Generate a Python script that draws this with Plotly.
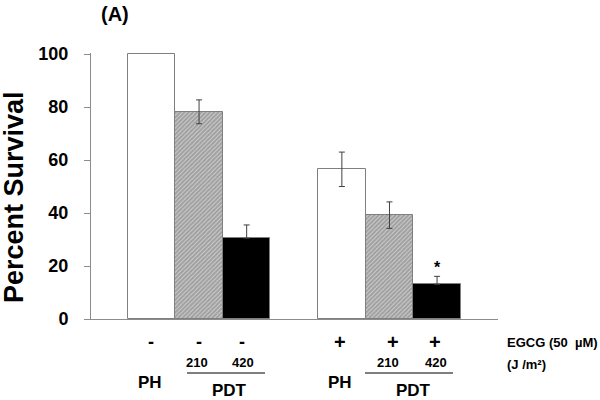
import plotly.graph_objects as go

# ---- data ----
positions = [0, 1, 2, 4, 5, 6]
survival = [100, 78.2, 30.5, 56.5, 39.2, 13.1]
err_positions = [1, 2, 4, 5, 6]
err_values = [78.2, 30.5, 56.5, 39.2, 13.1]
err_plus = [4.5, 5.0, 6.5, 5.0, 3.0]
err_minus = [4.5, 0, 6.5, 5.0, 0]
fill_colors = ["white", "white", "black", "white", "white", "black"]
hatch = ["", "/", "", "", "/", ""]
y_ticks = [0, 20, 40, 60, 80, 100]
egcg_signs = ["-", "-", "-", "+", "+", "+"]
sign_px = [151, 199, 242, 340, 393, 435]
dose_labels = ["210", "420", "210", "420"]
dose_px = [197, 243, 388, 436]
ph_px = [150, 340]
pdt_px = [229, 413]
pdt_line_px = [(187, 265), (365, 453)]

FONT = "Liberation Sans, Arial, sans-serif"
L, R, T, B = 91, 102, 53, 81
PW, PH = 600 - L - R, 400 - T - B

def px2x(px):
    return (px - L) / PW

def py2y(py):
    return (400 - B - py) / PH

fig = go.Figure()
fig.add_trace(go.Bar(
    x=positions, y=survival, width=1.0, cliponaxis=False,
    marker=dict(color=fill_colors,
                line=dict(color="#7f7f7f", width=1),
                pattern=dict(shape=hatch, fgcolor="#111111", bgcolor="white",
                             size=3, solidity=0.85, fillmode="overlay")),
    showlegend=False, hoverinfo="skip",
))
fig.add_trace(go.Scatter(
    x=err_positions, y=err_values, mode="markers",
    marker=dict(size=1, opacity=0),
    error_y=dict(type="data", array=err_plus, arrayminus=err_minus, symmetric=False,
                 color="#404040", thickness=1, width=3, visible=True),
    showlegend=False, hoverinfo="skip",
))

ann = []
def txt(px, py, s, size, xanchor="center", angle=0):
    ann.append(dict(x=px2x(px), y=py2y(py), xref="paper", yref="paper", text=s,
                    showarrow=False, textangle=angle,
                    font=dict(family=FONT, size=size, color="black", weight="bold"),
                    xanchor=xanchor, yanchor="middle"))

for s, x in zip(egcg_signs, sign_px):
    txt(x, 342, s, 20 if s == "+" else 18)
for s, x in zip(dose_labels, dose_px):
    txt(x, 362, s, 13)
for x in ph_px:
    txt(x, 382, "PH", 17)
for x in pdt_px:
    txt(x, 390, "PDT", 17)
txt(505, 342, "EGCG (50  µM)", 13, xanchor="left")
txt(505, 364, "(J /m²)", 13, xanchor="left")
txt(437, 267, "*", 16)
txt(115, 14, "(A)", 20)
txt(14, 197, "Percent Survival", 27, angle=-90)

shapes = []
for x0, x1 in pdt_line_px:
    shapes.append(dict(type="line", xref="paper", yref="paper", x0=px2x(x0), x1=px2x(x1),
                       y0=py2y(373), y1=py2y(373), line=dict(color="#7f7f7f", width=2)))

fig.update_layout(
    width=600, height=400,
    margin=dict(l=L, r=R, t=T, b=B),
    paper_bgcolor="white", plot_bgcolor="white",
    annotations=ann, shapes=shapes,
    bargap=0,
    xaxis=dict(range=[-1.27, 7.28], showticklabels=False, ticks="", showgrid=False,
               zeroline=False, showline=True, linecolor="#8c8c8c", linewidth=1,
               automargin=False),
    yaxis=dict(range=[0, 100.4], tickvals=y_ticks, ticks="outside", ticklen=6,
               tickcolor="#8c8c8c", showgrid=False, zeroline=False, showline=True,
               linecolor="#8c8c8c", linewidth=1, automargin=False, ticklabelstandoff=12,
               tickfont=dict(family=FONT, size=18, color="black", weight="bold")),
)

fig.write_html("out.html", config={"displayModeBar": False},
               post_script="document.body.style.margin='0';")
